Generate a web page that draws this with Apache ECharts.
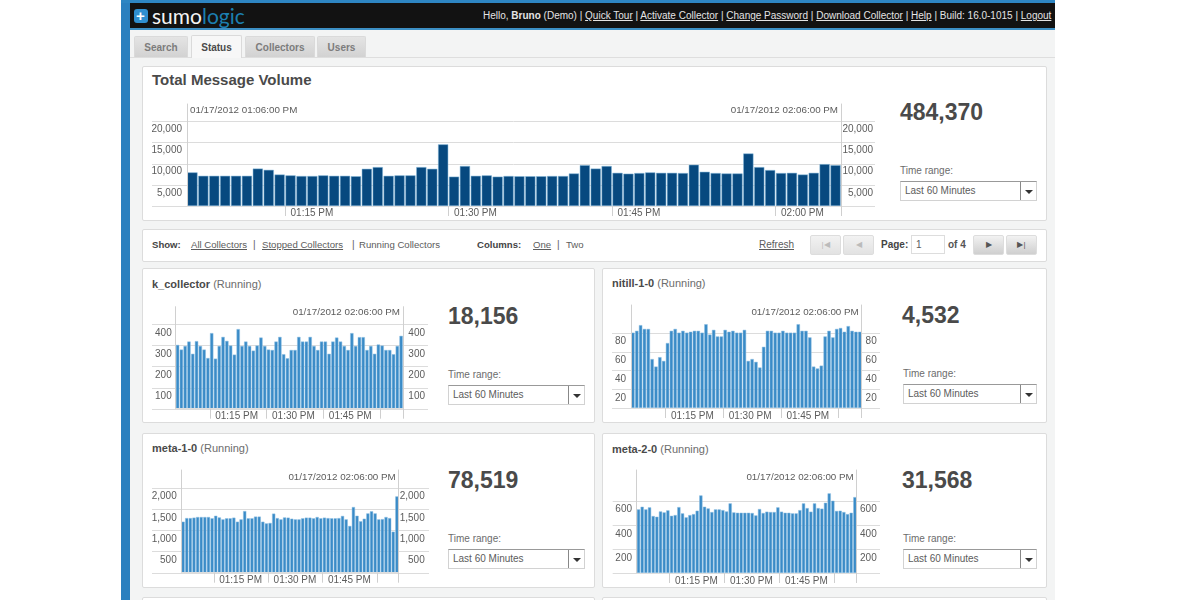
<!DOCTYPE html>
<html>
<head>
<meta charset="utf-8">
<title>Sumo Logic status</title>
<script src="https://cdn.jsdelivr.net/npm/echarts@6/dist/echarts.min.js"></script>
<style>
    html, body { margin: 0; padding: 0; background: #fff; overflow: hidden; }
    body { width: 1200px; height: 600px; position: relative; font-family: "Liberation Sans", Arial, sans-serif; font-size: 10px; color: #5c5c5c; }
    #shot { position: absolute; left: 0; top: 0; width: 1200px; height: 600px; filter: blur(0.35px); }
    #page div, #page span.abs, #page a.abs { position: absolute; white-space: nowrap; }
    #chart { position: absolute; left: 0; top: 0; width: 1200px; height: 600px; }
    a { color: inherit; text-decoration: underline; }
    .panel { background: #fff; border: 1px solid #dcdcdc; box-sizing: border-box; border-radius: 2px; }
    .tab { background: linear-gradient(#e4e4e4, #d2d2d2); border: 1px solid #dadada; border-bottom: 0; box-sizing: border-box; text-align: center; font-weight: bold; color: #7c7c7c; line-height: 21px; border-radius: 2px 2px 0 0; }
    .tab.on { background: #f7f7f7; color: #4a4a4a; line-height: 23px; }
    .head { font-size: 11px; color: #6c6c6c; }
    .head b { color: #4a4a4a; }
    .count { font-size: 23px; font-weight: bold; color: #4a4a4a; line-height: 26px; }
    .select { background: #fff; border: 1px solid #d2d2d2; border-top-color: #999; box-sizing: border-box; padding-left: 4px; line-height: 18px; }
    .arrow { border-left: 1px solid #888; right: 0; top: 0; bottom: 0; width: 15px; background: #fff; }
    .arrow i { position: absolute; left: 4px; top: 8px; border: 4px solid transparent; border-top-color: #333; border-bottom: 0; }
    .btn { background: linear-gradient(#f2f2f2, #cfcfcf); border: 1px solid #ddd; box-sizing: border-box; border-radius: 2px; text-align: center; line-height: 18px; font-size: 8px; color: #555; }
    .btn.off { background: linear-gradient(#f2f2f2, #e2e2e2); color: #bbb; }
</style>
</head>
<body>
<div id="shot">
<div id="page"></div>
<div id="chart"></div>
</div>
<script>
// 数据
var timeLabels = ['01:06 PM', '01:07 PM', '01:08 PM', '01:09 PM', '01:10 PM', '01:11 PM', '01:12 PM', '01:13 PM', '01:14 PM', '01:15 PM',
    '01:16 PM', '01:17 PM', '01:18 PM', '01:19 PM', '01:20 PM', '01:21 PM', '01:22 PM', '01:23 PM', '01:24 PM', '01:25 PM',
    '01:26 PM', '01:27 PM', '01:28 PM', '01:29 PM', '01:30 PM', '01:31 PM', '01:32 PM', '01:33 PM', '01:34 PM', '01:35 PM',
    '01:36 PM', '01:37 PM', '01:38 PM', '01:39 PM', '01:40 PM', '01:41 PM', '01:42 PM', '01:43 PM', '01:44 PM', '01:45 PM',
    '01:46 PM', '01:47 PM', '01:48 PM', '01:49 PM', '01:50 PM', '01:51 PM', '01:52 PM', '01:53 PM', '01:54 PM', '01:55 PM',
    '01:56 PM', '01:57 PM', '01:58 PM', '01:59 PM', '02:00 PM', '02:01 PM', '02:02 PM', '02:03 PM', '02:04 PM', '02:05 PM'];
var totalTimeTicks = ['01:15 PM', '01:30 PM', '01:45 PM', '02:00 PM'];
var smallTimeTicks = ['01:15 PM', '01:30 PM', '01:45 PM'];
var tickMarks = ['01:15 PM', '01:30 PM', '01:45 PM', '02:00 PM'];

var totalVolume = [7900, 7100, 7100, 7100, 7100, 7100, 8800, 8500, 7400, 7200,
    7050, 7050, 7200, 7100, 7100, 7000, 8750, 9150, 7100, 7200,
    7200, 9150, 8750, 14500, 6900, 9400, 7100, 7200, 6900, 7050,
    7000, 7000, 7000, 7050, 7050, 7650, 9600, 8800, 9400, 7800,
    7600, 7750, 7900, 7800, 7800, 7750, 9700, 8050, 7750, 7650,
    7650, 12350, 9150, 8450, 7750, 7800, 7400, 7800, 9850, 9600];
var kCollector = [302, 280, 297, 318, 260, 320, 297, 280, 240, 358,
    237, 297, 340, 321, 299, 256, 377, 297, 318, 297,
    275, 299, 337, 297, 280, 278, 318, 340, 258, 239,
    278, 278, 340, 318, 318, 340, 297, 278, 318, 318,
    260, 318, 337, 318, 297, 278, 358, 297, 339, 339,
    278, 297, 260, 304, 299, 278, 278, 258, 297, 345];
var nitill = [80, 82, 88, 84, 84, 52, 44, 54, 50, 69,
    82, 84, 80, 82, 80, 81, 82, 82, 80, 89,
    78, 83, 76, 76, 83, 81, 82, 80, 80, 83,
    50, 52, 49, 43, 65, 82, 82, 80, 80, 82,
    80, 80, 80, 89, 82, 82, 75, 44, 42, 45,
    76, 82, 75, 84, 85, 81, 87, 82, 81, 81];
var meta1 = [1200, 1285, 1285, 1295, 1310, 1310, 1310, 1310, 1280, 1340,
    1300, 1255, 1280, 1280, 1295, 1200, 1255, 1450, 1280, 1280,
    1320, 1320, 1200, 1160, 1170, 1390, 1285, 1255, 1300, 1295,
    1270, 1255, 1255, 1280, 1295, 1295, 1280, 1310, 1280, 1295,
    1285, 1280, 1280, 1285, 1335, 1255, 1100, 1545, 1340, 1210,
    1270, 1395, 1445, 1395, 1255, 1260, 1310, 1285, 965, 1795];
var meta2 = [528, 550, 528, 545, 473, 467, 511, 503, 520, 475,
    481, 547, 495, 462, 481, 489, 517, 644, 550, 536,
    506, 528, 528, 522, 511, 578, 503, 500, 500, 500,
    500, 498, 478, 531, 498, 509, 506, 506, 545, 509,
    500, 500, 495, 495, 522, 578, 539, 509, 578, 539,
    534, 583, 661, 600, 515, 517, 506, 489, 500, 630];

var totalTicks = [5000, 10000, 15000, 20000];
var kTicks = [100, 200, 300, 400];
var nitillTicks = [20, 40, 60, 80];
var meta1Ticks = [500, 1000, 1500, 2000];
var meta2Ticks = [200, 400, 600];

var startLabel = '01/17/2012 01:06:00 PM';
var endLabel = '01/17/2012 02:06:00 PM';

// 图表位置
var layouts = [
    {data: totalVolume, ticks: totalTicks, step: 5000, max: 24000, times: totalTimeTicks, color: '#07497f', gap: '7%', edge: '#7fb4d8',
        left: 187, right: 841, top: 104, bottom: 206, lineL: 152, lineR: 875, marginL: 5, marginR: 32, labelMargin: 2, stampY: 110},
    {data: kCollector, ticks: kTicks, step: 100, max: 483, times: smallTimeTicks, color: '#3a8bc7', gap: '12%', edge: '#8dbfe2',
        left: 175.7, right: 403, top: 306.7, bottom: 408.7, lineL: 152, lineR: 428, marginL: 4, marginR: 22, labelMargin: 3, stampY: 312.7},
    {data: nitill, ticks: nitillTicks, step: 20, max: 109.4, times: smallTimeTicks, color: '#3a8bc7', gap: '12%', edge: '#8dbfe2',
        left: 631, right: 861.7, top: 305, bottom: 408, lineL: 612, lineR: 880, marginL: 5, marginR: 15, labelMargin: 3, stampY: 312},
    {data: meta1, ticks: meta1Ticks, step: 500, max: 2416, times: smallTimeTicks, color: '#3a8bc7', gap: '12%', edge: '#8dbfe2',
        left: 181.3, right: 398.7, top: 470, bottom: 572.7, lineL: 152, lineR: 429, marginL: 4.6, marginR: 26, labelMargin: 3, stampY: 477},
    {data: meta2, ticks: meta2Ticks, step: 200, max: 855, times: smallTimeTicks, color: '#3a8bc7', gap: '12%', edge: '#8dbfe2',
        left: 636.7, right: 856.7, top: 470, bottom: 573, lineL: 612.7, lineR: 880, marginL: 4.7, marginR: 20, labelMargin: 3, stampY: 477}
];

// 页面外框
function box(cls, left, top, width, height, html, extra) {
    return '<div class="' + cls + '" style="left:' + left + 'px;top:' + top + 'px;width:' + width + 'px;height:' + height + 'px;' + (extra || '') + '">' + (html || '') + '</div>';
}
function text(cls, left, top, html, extra) {
    return '<div class="' + cls + '" style="left:' + left + 'px;top:' + top + 'px;' + (extra || '') + '">' + html + '</div>';
}
function timeRange(left, top, width) {
    return text('', left, top - 16, 'Time range:', 'font-size:10px;color:#6c6c6c;') +
        box('select', left, top, width, 20, 'Last 60 Minutes<div class="arrow"><i></i></div>');
}

var chrome = '';
chrome += box('', 121, 0, 934, 600, '', 'background:#f3f4f4;');
chrome += box('', 121, 0, 9, 600, '', 'background:#2b80bf;');
chrome += box('', 121, 0, 934, 3, '', 'background:#2e86c3;');
chrome += box('', 130, 3, 925, 25, '', 'background:#121212;');
chrome += box('', 130, 28, 925, 2, '', 'background:#3c8fc4;');
chrome += box('', 134, 9, 14, 14, '<span style="position:absolute;left:2px;top:-2px;font-size:15px;font-weight:bold;color:#fff;line-height:17px;">+</span>', 'background:#2f8fd0;border-radius:3px;');
chrome += text('', 152, 3, '<span style="color:#f4f4f4;">sumo</span><span style="color:#1c7fb0;">logic</span>', 'font-family:Lato,sans-serif;font-size:21px;line-height:25px;font-weight:400;');
chrome += text('', 483, 10, 'Hello, <b>Bruno</b> (Demo) | <a>Quick Tour</a> | <a>Activate Collector</a> | <a>Change Password</a> | <a>Download Collector</a> | <a>Help</a> | Build: 16.0-1015 | <a>Logout</a>', 'color:#e4e4e4;line-height:12px;width:567px;text-align:right;');

chrome += box('', 130, 57, 925, 1, '', 'background:#dedede;');
chrome += box('tab', 134, 36, 54, 21, 'Search');
chrome += box('tab on', 191, 35, 51, 23, 'Status');
chrome += box('tab', 245, 36, 70, 21, 'Collectors');
chrome += box('tab', 317, 36, 49, 21, 'Users');

chrome += box('panel', 142, 66, 905, 155);
chrome += text('', 152, 71, 'Total Message Volume', 'font-size:15px;font-weight:bold;color:#4a4a4a;line-height:18px;');
chrome += text('count', 900, 99, '484,370');
chrome += timeRange(900, 181, 137);

chrome += box('panel', 142, 229, 905, 33);
chrome += text('', 152, 239, '<b>Show:</b>', 'color:#444;font-size:9.6px;');
chrome += text('', 191, 239, '<a>All Collectors</a>', 'font-size:9.6px;');
chrome += text('', 253, 239, '|');
chrome += text('', 262, 239, '<a>Stopped Collectors</a>', 'font-size:9.6px;');
chrome += text('', 352, 239, '|');
chrome += text('', 359, 239, 'Running Collectors', 'font-size:9.6px;');
chrome += text('', 477, 239, '<b>Columns:</b>', 'color:#444;font-size:9.6px;');
chrome += text('', 533, 239, '<a>One</a>', 'font-size:9.6px;');
chrome += text('', 557, 239, '|');
chrome += text('', 566, 239, 'Two', 'font-size:9.6px;');
chrome += text('', 759, 239, '<a>Refresh</a>');
chrome += box('btn off', 810, 235, 31, 20, '|&#9664;');
chrome += box('btn off', 843, 235, 31, 20, '&#9664;');
chrome += text('', 881, 239, '<b>Page:</b>', 'color:#444;');
chrome += box('', 911, 235, 34, 19, '1', 'background:#fff;border:1px solid #ddd;box-sizing:border-box;padding-left:4px;line-height:17px;');
chrome += text('', 948, 239, '<b>of 4</b>', 'color:#555;');
chrome += box('btn', 973, 235, 31, 20, '&#9654;');
chrome += box('btn', 1006, 235, 31, 20, '&#9654;|');

chrome += box('panel', 142, 268, 453, 155);
chrome += text('head', 152, 278, '<b>k_collector</b> (Running)');
chrome += text('count', 448, 303, '18,156');
chrome += timeRange(448, 385, 137);

chrome += box('panel', 602, 268, 445, 155);
chrome += text('head', 612, 277, '<b>nitill-1-0</b> (Running)');
chrome += text('count', 902, 302, '4,532');
chrome += timeRange(903, 384, 134);

chrome += box('panel', 142, 433, 453, 155);
chrome += text('head', 152, 442, '<b>meta-1-0</b> (Running)');
chrome += text('count', 448, 467, '78,519');
chrome += timeRange(448, 549, 137);

chrome += box('panel', 602, 433, 445, 155);
chrome += text('head', 612, 443, '<b>meta-2-0</b> (Running)');
chrome += text('count', 902, 467, '31,568');
chrome += timeRange(903, 549, 134);

chrome += box('panel', 142, 597, 453, 6);
chrome += box('panel', 602, 597, 445, 6);
document.getElementById('page').innerHTML = chrome;

// 图表
var chart = echarts.init(document.getElementById('chart'), null, {width: 1200, height: 600});
var grids = [], xAxes = [], yAxes = [], series = [];

layouts.forEach(function (item, i) {
    grids.push({left: item.left, top: item.top, width: item.right - item.left, height: item.bottom - item.top});
    xAxes.push({
        type: 'category',
        gridIndex: i,
        data: timeLabels,
        z: 5,
        axisLine: {show: true, lineStyle: {color: '#dedede'}},
        axisTick: {
            show: true,
            length: 10,
            lineStyle: {color: '#cfcfcf'},
            interval: function (index, value) {
                return tickMarks.indexOf(value) >= 0;
            }
        },
        axisLabel: {
            color: '#5c5c5c',
            fontSize: 10,
            fontFamily: 'Liberation Sans',
            align: 'left',
            margin: item.labelMargin,
            padding: [0, 0, 0, i === 0 ? 0 : 3.5],
            interval: function (index, value) {
                return item.times.indexOf(value) >= 0;
            }
        }
    });
    ['left', 'right'].forEach(function (side) {
        yAxes.push({
            type: 'value',
            gridIndex: i,
            position: side,
            min: 0,
            max: item.max,
            interval: item.step,
            z: 5,
            splitLine: {show: false},
            axisTick: {show: false},
            axisLine: {show: true, onZero: false, lineStyle: {color: '#d0d0d0'}},
            axisLabel: {
                color: '#5c5c5c',
                fontSize: 10,
                fontFamily: 'Liberation Sans',
                align: 'right',
                verticalAlign: 'top',
                padding: [i === 0 ? 3 : 4, 0, 0, 0],
                margin: side === 'left' ? item.marginL : item.marginR,
                showMaxLabel: false,
                formatter: function (value) {
                    return item.ticks.indexOf(value) >= 0 ? value.toLocaleString('en-US') : '';
                }
            }
        });
    });
    series.push({
        type: 'bar',
        xAxisIndex: i,
        yAxisIndex: i * 2,
        data: item.data,
        barCategoryGap: item.gap,
        silent: true,
        animation: false,
        itemStyle: {color: item.color, borderColor: item.edge, borderWidth: 0.5}
    });
});

chart.setOption({
    animation: false,
    grid: grids,
    xAxis: xAxes,
    yAxis: yAxes,
    series: series
});

// 网格线穿过刻度文字，时间戳放在轴内
var decorations = [];
layouts.forEach(function (item, i) {
    [0].concat(item.ticks).forEach(function (value) {
        var y = Math.round(chart.convertToPixel({yAxisIndex: i * 2}, value)) + 0.5;
        decorations.push({
            type: 'line',
            silent: true,
            z: 1,
            shape: {x1: item.lineL, y1: y, x2: item.lineR, y2: y},
            style: {stroke: '#dcdcdc', lineWidth: 1}
        });
    });
    if (i === 0) {
        decorations.push({
            type: 'text',
            silent: true,
            z: 6,
            x: item.left + 3,
            y: item.stampY,
            style: {text: startLabel, fill: '#5c5c5c', font: '9.8px "Liberation Sans"', textAlign: 'left', textVerticalAlign: 'middle'}
        });
    }
    decorations.push({
        type: 'text',
        silent: true,
        z: 6,
        x: item.right - 3,
        y: item.stampY,
        style: {text: endLabel, fill: '#5c5c5c', font: '9.8px "Liberation Sans"', textAlign: 'right', textVerticalAlign: 'middle'}
    });
});
chart.setOption({graphic: {elements: decorations}});
</script>
</body>
</html>
